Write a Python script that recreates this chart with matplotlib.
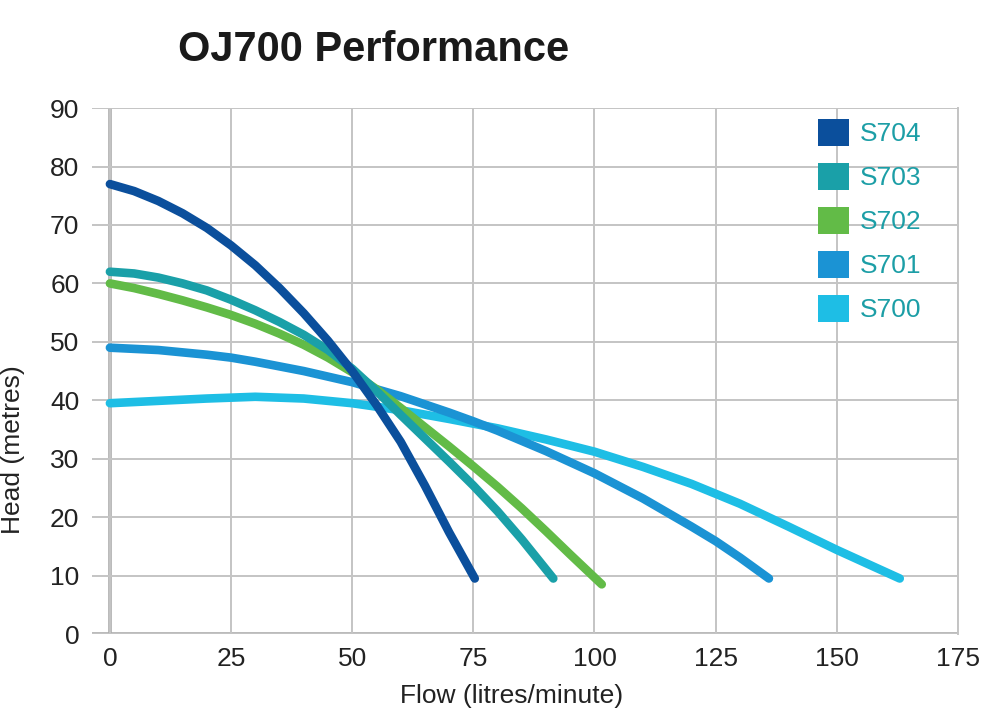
import matplotlib
matplotlib.use('Agg')
import matplotlib.pyplot as plt
from matplotlib.patches import Patch

plt.rcParams['font.family'] = ['Liberation Sans', 'DejaVu Sans']

# curve data (flow l/min, head m)
s704_x = [0, 5, 10, 15, 20, 25, 30, 35, 40, 45, 50, 55, 60, 65, 70, 75.3]
s704_y = [77, 75.8, 74.1, 72.0, 69.5, 66.5, 63.1, 59.2, 54.9, 50.2, 45, 39.2, 32.9, 25.4, 17.4, 9.5]

s703_x = [0, 5, 10, 15, 20, 25, 30, 35, 40, 45, 50, 55, 60, 65, 70, 75, 80, 85, 91.5]
s703_y = [62, 61.7, 61, 60, 58.8, 57.2, 55.4, 53.4, 51.2, 48.6, 45.4, 41.6, 37.5, 33.5, 29.5, 25.4, 21, 16.2, 9.5]

s702_x = [0, 5, 10, 15, 20, 25, 30, 35, 40, 45, 50, 55, 60, 65, 70, 75, 80, 85, 90, 95, 101.5]
s702_y = [60, 59.2, 58.2, 57.1, 55.9, 54.6, 53.1, 51.4, 49.5, 47.3, 44.8, 41.9, 38.7, 35.4, 32.1,
          28.7, 25.2, 21.5, 17.6, 13.6, 8.5]

s701_x = [0, 10, 20, 25, 30, 40, 50, 60, 70, 75, 80, 90, 100, 110, 120, 125, 130, 136]
s701_y = [49, 48.6, 47.8, 47.3, 46.6, 45, 43.1, 40.7, 37.9, 36.4, 34.8, 31.3, 27.5, 23.2, 18.4, 15.9, 13.1, 9.5]

s700_x = [0, 10, 20, 30, 40, 50, 60, 70, 80, 90, 100, 110, 120, 130, 140, 150, 163]
s700_y = [39.5, 39.9, 40.3, 40.6, 40.3, 39.5, 38.3, 36.8, 35.2, 33.3, 31.2, 28.6, 25.7, 22.3,
          18.4, 14.4, 9.5]

names = ['S704', 'S703', 'S702', 'S701', 'S700']
colours = ['#0b4f9c', '#1aa0a8', '#62bb47', '#1b93d4', '#1ebee5']
series = [(s704_x, s704_y), (s703_x, s703_y), (s702_x, s702_y),
          (s701_x, s701_y), (s700_x, s700_y)]

x_ticks = [0, 25, 50, 75, 100, 125, 150, 175]
y_ticks = [0, 10, 20, 30, 40, 50, 60, 70, 80, 90]

fig = plt.figure(figsize=(10.02, 7.16), dpi=100)
ax = fig.add_axes([0.0918, 0.1145, 0.8642, 0.7345])

# draw in reverse so S704 ends up on top
for (xs, ys), c in reversed(list(zip(series, colours))):
    ax.plot(xs, ys, color=c, lw=6.2, solid_capstyle='round',
            solid_joinstyle='round', zorder=3)

ax.set_xlim(-3.7, 175)
ax.set_ylim(0, 90)
ax.set_xticks(x_ticks)
ax.set_yticks(y_ticks)
ax.grid(True, color='#c4c4c4', lw=1.4, zorder=0)
ax.axvline(0, color='#ababab', lw=2.6, zorder=1)
ax.axhline(0, color='#ababab', lw=2.6, zorder=1)
for s in ['top', 'left', 'bottom']:
    ax.spines[s].set_visible(False)
ax.spines['right'].set_color('#c4c4c4')
ax.spines['right'].set_linewidth(1.4)
ax.tick_params(length=0, labelsize=19, colors='#222222', pad=9)

ax.set_xlabel('Flow (litres/minute)', fontsize=19, color='#222222')
ax.set_ylabel('Head (metres)', fontsize=19, color='#222222')
ax.xaxis.set_label_coords(0.484, -0.095)
ax.yaxis.set_label_coords(-0.077, 0.35)

fig.text(0.178, 0.93, 'OJ700 Performance', fontsize=30, fontweight='bold',
         color='#1a1a1a', va='center')

handles = [Patch(facecolor=c, edgecolor='none') for c in colours]
leg = ax.legend(handles, names, loc='upper left', bbox_to_anchor=(0.826, 1.0),
                frameon=False, fontsize=19, handlelength=1.2, handleheight=1.2,
                handletextpad=0.4, labelspacing=0.63, borderaxespad=0)
for t in leg.get_texts():
    t.set_color('#1c9ea6')

plt.savefig('out.png', dpi=100)
